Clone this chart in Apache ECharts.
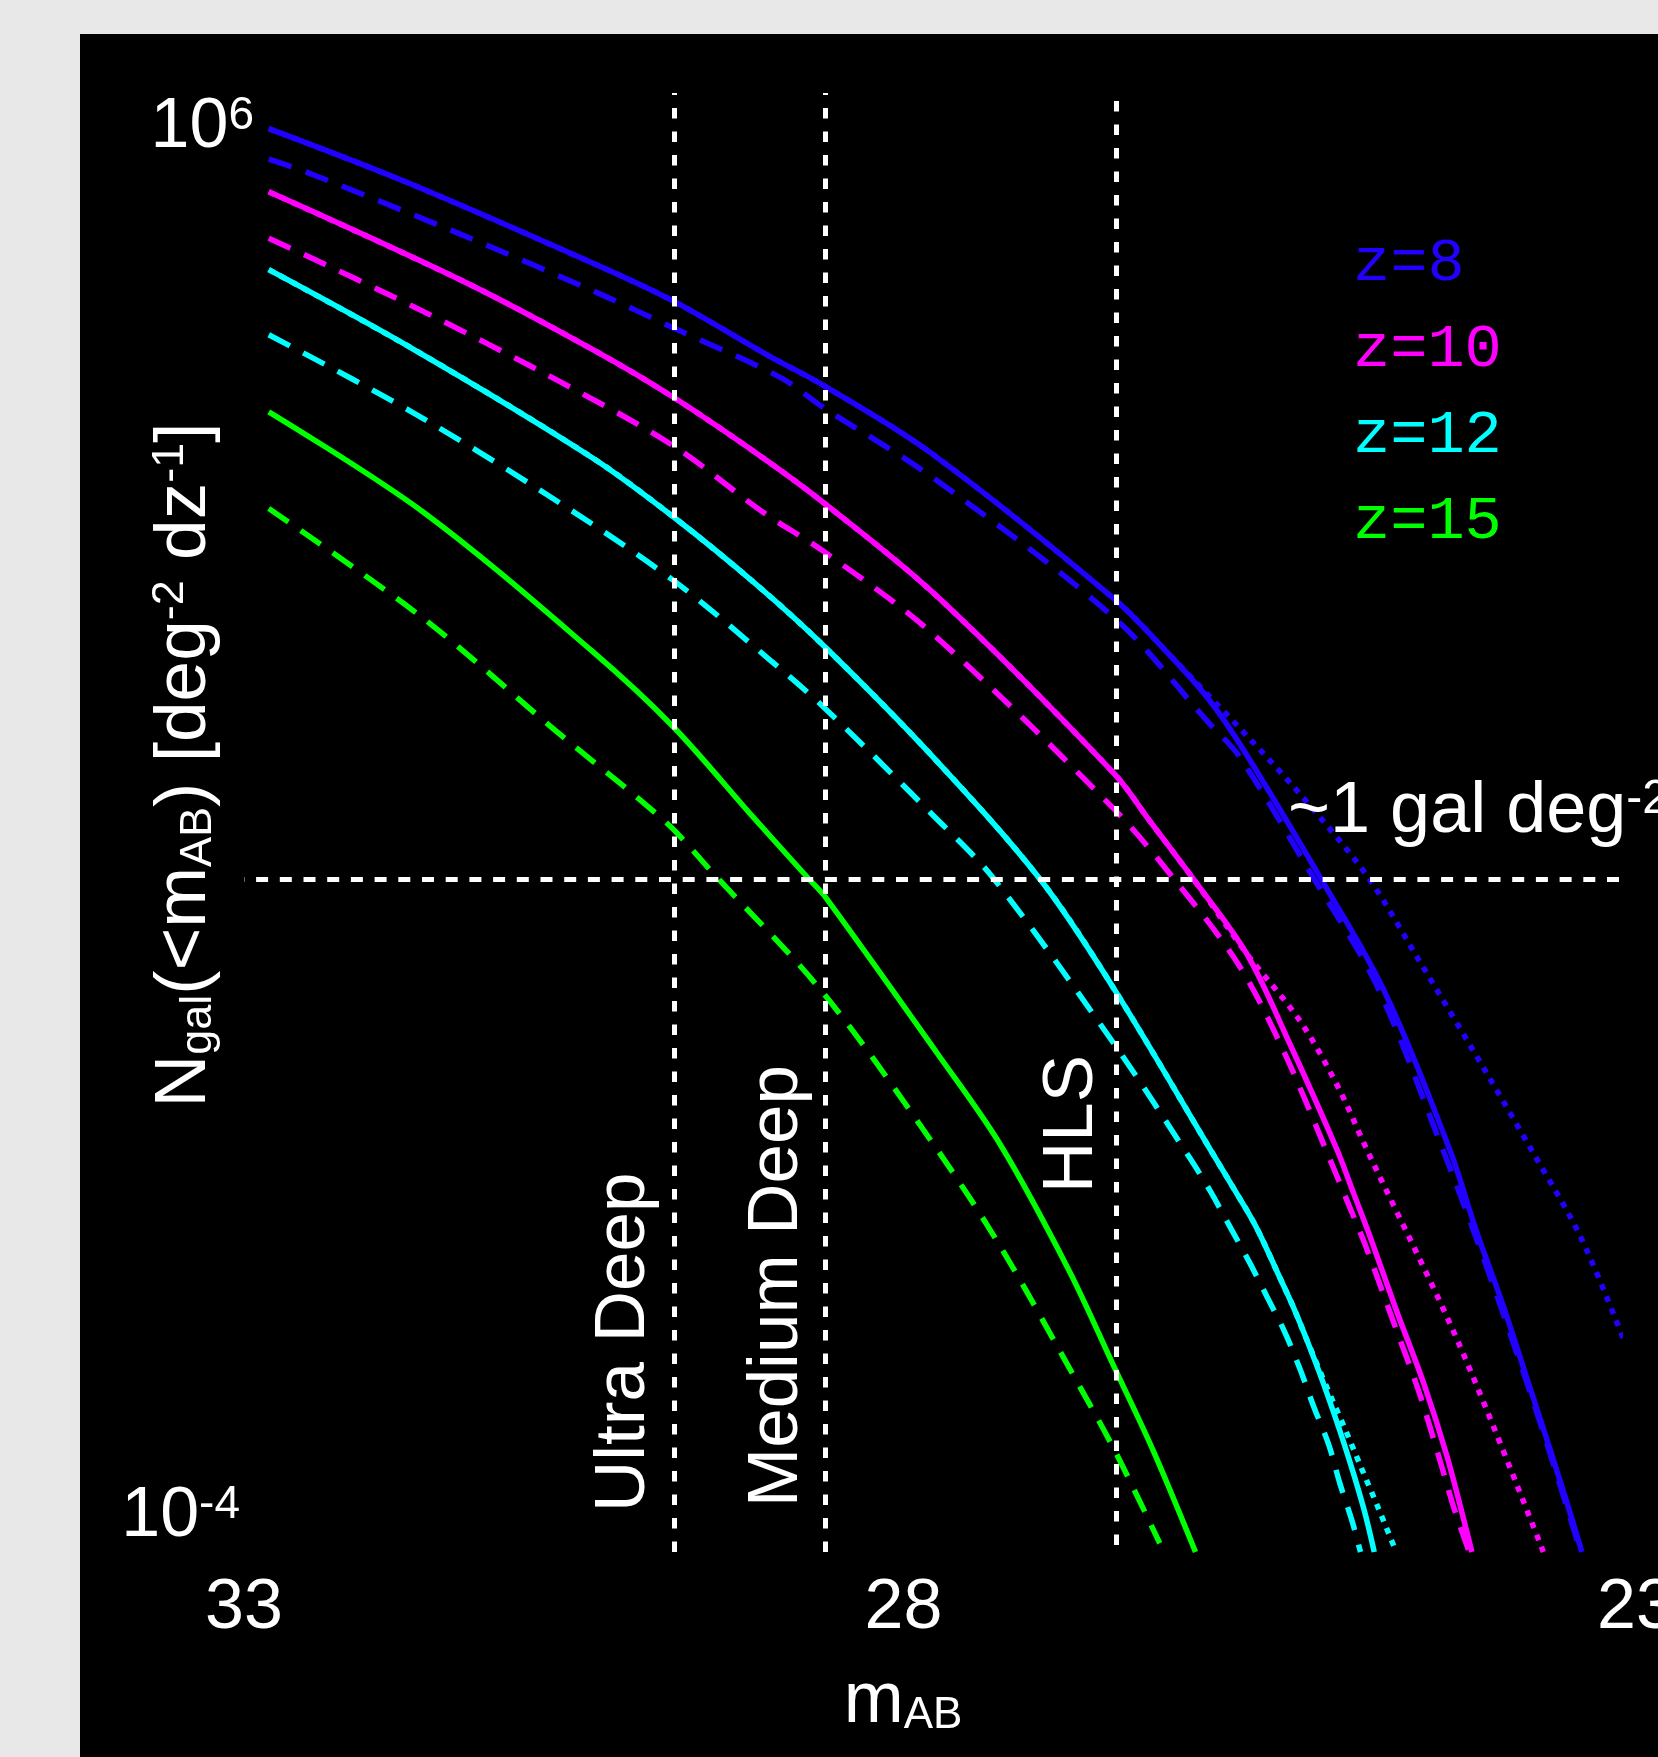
<!DOCTYPE html>
<html>
<head>
<meta charset="utf-8">
<style>
html,body{margin:0;padding:0;background:#e8e8e8;}
#chart{width:1658px;height:1757px;}
</style>
<script src="https://cdn.jsdelivr.net/npm/echarts@6/dist/echarts.min.js"></script>
</head>
<body>
<div id="chart"></div>
<script>
// ---------------- data ----------------
const xTickValues = [23, 28, 33];
const yTickExponents = [-4, 6];

const redshiftLabels = ['z=8', 'z=10', 'z=12', 'z=15'];
const redshiftColors = ['#2200ff', '#ff00ff', '#00ffff', '#00ff00'];

const surveyNames = ['Ultra Deep', 'Medium Deep', 'HLS'];
const surveyDepths = [29.87, 28.77, 26.66];
const oneGalLevel = 4.1;

// z = 8
const z8SolidMag  = [32.82, 31.83, 30.45, 29.88, 29.18, 28.78, 28.00, 26.67, 26.30, 25.99, 25.73, 25.17, 24.71, 24.23, 24.04, 23.84, 23.65, 23.50, 23.34, 23.27];
const z8SolidLogN = [5.756, 5.393, 4.828, 4.575, 4.197, 3.993, 3.530, 2.531, 2.180, 1.852, 1.497, 0.618, -0.150, -1.245, -1.793, -2.318, -2.867, -3.300, -3.780, -4.000];
const z8DashedMag  = [32.82, 32.55, 31.44, 30.40, 29.88, 29.10, 28.78, 28.00, 26.67, 25.99, 25.76, 25.22, 24.76, 24.28, 24.06, 23.86, 23.66, 23.51, 23.35, 23.28];
const z8DashedLogN = [5.546, 5.459, 5.038, 4.618, 4.391, 4.051, 3.840, 3.370, 2.402, 1.690, 1.451, 0.618, -0.120, -1.245, -1.793, -2.318, -2.867, -3.300, -3.780, -4.000];
const z8DottedMag  = [32.82, 31.83, 30.45, 29.88, 29.18, 28.78, 28.00, 26.67, 26.30, 25.61, 25.22, 24.82, 24.47, 23.99, 23.65, 23.28, 22.96];
const z8DottedLogN = [5.756, 5.393, 4.828, 4.575, 4.197, 3.993, 3.530, 2.531, 2.180, 1.497, 1.086, 0.618, 0.080, -0.674, -1.222, -1.839, -2.559];

// z = 10
const z10SolidMag  = [32.82, 31.38, 30.44, 29.88, 29.23, 28.78, 27.96, 26.67, 26.42, 26.10, 25.71, 25.39, 25.05, 24.93, 24.81, 24.62, 24.42, 24.25, 24.11, 24.07];
const z10SolidLogN = [5.323, 4.698, 4.229, 3.916, 3.502, 3.188, 2.550, 1.334, 1.020, 0.618, 0.104, -0.525, -1.245, -1.542, -1.839, -2.341, -2.844, -3.347, -3.849, -4.000];
const z10DashedMag  = [32.82, 31.77, 30.73, 29.88, 29.23, 28.78, 28.00, 26.67, 26.24, 25.77, 25.44, 25.07, 24.96, 24.85, 24.65, 24.45, 24.28, 24.20, 24.09];
const z10DashedLogN = [5.005, 4.537, 4.035, 3.583, 3.130, 2.855, 2.300, 1.090, 0.618, 0.030, -0.565, -1.382, -1.633, -1.884, -2.398, -2.917, -3.443, -3.700, -4.000];
const z10DottedMag  = [32.82, 31.38, 30.44, 29.88, 29.23, 28.78, 27.96, 26.67, 26.42, 26.10, 25.71, 25.32, 25.05, 24.83, 24.17, 23.55];
const z10DottedLogN = [5.323, 4.698, 4.229, 3.916, 3.502, 3.188, 2.550, 1.334, 1.020, 0.618, 0.104, -0.360, -0.800, -1.250, -2.560, -4.000];

// z = 12
const z12SolidMag  = [32.82, 31.77, 30.47, 29.88, 29.27, 28.78, 28.00, 27.21, 26.67, 25.97, 25.81, 25.64, 25.47, 25.37, 25.27, 25.15, 25.00, 24.86, 24.78];
const z12SolidLogN = [4.789, 4.245, 3.502, 3.097, 2.628, 2.208, 1.460, 0.611, -0.144, -1.245, -1.496, -1.770, -2.113, -2.318, -2.547, -2.844, -3.255, -3.690, -4.000];
const z12DashedMag  = [32.82, 31.80, 30.79, 29.88, 29.17, 28.78, 28.00, 27.55, 26.67, 26.12, 25.97, 25.83, 25.69, 25.56, 25.43, 25.32, 25.22, 25.11, 25.03, 24.94, 24.88];
const z12DashedLogN = [4.343, 3.825, 3.243, 2.661, 2.110, 1.787, 1.060, 0.618, -0.520, -1.302, -1.530, -1.770, -2.010, -2.250, -2.494, -2.746, -3.004, -3.267, -3.530, -3.792, -4.000];
const z12DottedMag  = [32.82, 31.77, 30.47, 29.88, 29.27, 28.78, 28.00, 27.21, 26.67, 25.97, 25.81, 25.64, 25.47, 25.37, 25.27, 25.13, 25.00, 24.88, 24.75, 24.62];
const z12DottedLogN = [4.789, 4.245, 3.502, 3.097, 2.628, 2.208, 1.460, 0.611, -0.144, -1.245, -1.496, -1.770, -2.113, -2.318, -2.547, -2.860, -3.140, -3.410, -3.700, -4.000];

// z = 15
const z15SolidMag  = [32.82, 31.70, 30.47, 29.88, 29.30, 28.89, 28.77, 27.96, 27.50, 27.00, 26.67, 26.39, 26.08];
const z15SolidLogN = [3.815, 3.130, 2.176, 1.658, 1.040, 0.611, 0.487, -0.580, -1.207, -2.070, -2.735, -3.300, -4.000];
const z15DashedMag  = [32.82, 31.70, 30.73, 29.93, 29.59, 28.78, 27.96, 27.50, 27.00, 26.67, 26.34];
const z15DashedLogN = [3.152, 2.402, 1.626, 1.000, 0.654, -0.177, -1.240, -1.905, -2.735, -3.300, -3.940];

// ---------------- chart ----------------
const FONT = 'Liberation Sans, Helvetica, Arial, sans-serif';
const DASH = [24, 15];
const DOT = [6, 7];
const LW = 5.5;

function pts(mags, logs) {
  return mags.map((m, i) => [m, Math.pow(10, logs[i])]);
}
function curve(name, mags, logs, color, type) {
  return {
    name: name, type: 'line', data: pts(mags, logs),
    showSymbol: false, symbol: 'none', smooth: 0.33, clip: true,
    lineStyle: { color: color, width: LW, type: type, cap: 'butt', join: 'round' },
    silent: true, animation: false
  };
}

const series = [
  curve('z=8 solid',  z8SolidMag,  z8SolidLogN,  redshiftColors[0], 'solid'),
  curve('z=8 dashed', z8DashedMag, z8DashedLogN, redshiftColors[0], DASH),
  curve('z=8 dotted', z8DottedMag, z8DottedLogN, redshiftColors[0], DOT),
  curve('z=10 solid',  z10SolidMag,  z10SolidLogN,  redshiftColors[1], 'solid'),
  curve('z=10 dashed', z10DashedMag, z10DashedLogN, redshiftColors[1], DASH),
  curve('z=10 dotted', z10DottedMag, z10DottedLogN, redshiftColors[1], DOT),
  curve('z=12 solid',  z12SolidMag,  z12SolidLogN,  redshiftColors[2], 'solid'),
  curve('z=12 dashed', z12DashedMag, z12DashedLogN, redshiftColors[2], DASH),
  curve('z=12 dotted', z12DottedMag, z12DottedLogN, redshiftColors[2], DOT),
  curve('z=15 solid',  z15SolidMag,  z15SolidLogN,  redshiftColors[3], 'solid'),
  curve('z=15 dashed', z15DashedMag, z15DashedLogN, redshiftColors[3], DASH),
  {
    name: 'guides', type: 'line', data: [], silent: true, animation: false,
    markLine: {
      silent: true, animation: false, symbol: ['none', 'none'],
      label: { show: false },
      lineStyle: { color: '#ffffff', width: 5, type: [10.5, 13] },
      data: [
        { xAxis: surveyDepths[0] },
        { xAxis: surveyDepths[1] },
        [ { coord: [surveyDepths[2], 8.8e5] }, { coord: [surveyDepths[2], 1e-4] } ],
        { yAxis: oneGalLevel, lineStyle: { color: '#ffffff', width: 5, type: [12, 11.7] } }
      ]
    }
  }
];

const yRich = {
  b: { color: '#fff', fontSize: 70, lineHeight: 70, fontFamily: FONT },
  s: { color: '#fff', fontSize: 46, lineHeight: 52, verticalAlign: 'top', fontFamily: FONT },
  t: { color: '#fff', fontSize: 46, lineHeight: 52, verticalAlign: 'top', fontFamily: FONT, padding: [0, 14, 0, 0] }
};

const legendTexts = redshiftLabels.map((t, i) => ({
  type: 'text', x: 1353, y: 264 + i * 85.7, z: 10,
  style: { text: t, fill: redshiftColors[i], fontSize: 62, fontFamily: 'Liberation Mono, Courier New, monospace',
           align: 'left', verticalAlign: 'middle' }
}));

const surveyLabelPos = [[624, 1512], [777, 1507], [1072, 1193]];
const surveyTexts = surveyNames.map((t, i) => ({
  type: 'text', x: surveyLabelPos[i][0], y: surveyLabelPos[i][1], rotation: Math.PI / 2, z: 10,
  style: { text: t, fill: '#fff', fontSize: 71, fontFamily: FONT, align: 'left', verticalAlign: 'middle' }
}));

const chart = echarts.init(document.getElementById('chart'), null, { renderer: 'canvas' });
chart.setOption({
  backgroundColor: '#e8e8e8',
  animation: false,
  grid: { left: 244, right: 39, top: 93, bottom: 205, containLabel: false, outerBoundsMode: 'none' },
  xAxis: {
    type: 'value', min: 23, max: 33, inverse: true,
    axisLine: { show: false }, axisTick: { show: false }, splitLine: { show: false },
    axisLabel: {
      customValues: xTickValues, margin: 22, color: '#fff', fontSize: 70, fontFamily: FONT,
      hideOverlap: false,
      formatter: v => {
        const r = Math.round(v);
        return r === 28 ? '{p|' + r + '}' : (r === 23 ? '{r|' + r + '}' : '{q|' + r + '}');
      },
      rich: {
        p: { color: '#fff', fontSize: 70, lineHeight: 70, fontFamily: FONT, padding: [0, 56, 0, 0] },
        r: { color: '#fff', fontSize: 70, lineHeight: 70, fontFamily: FONT, padding: [0, 0, 0, 34] },
        q: { color: '#fff', fontSize: 70, lineHeight: 70, fontFamily: FONT }
      }
    }
  },
  yAxis: {
    type: 'log', logBase: 10, min: 1e-4, max: 1e6,
    axisLine: { show: false }, axisTick: { show: false }, splitLine: { show: false },
    axisLabel: {
      margin: -10, color: '#fff', fontSize: 70, fontFamily: FONT,
      verticalAlignMaxLabel: 'top', verticalAlignMinLabel: 'bottom',
      formatter: v => {
        const e = Math.round(Math.log10(v));
        if (yTickExponents.indexOf(e) < 0) return '';
        return e < 0 ? '{b|10}{t|' + e + '}' : '{b|10}{s|' + e + '}';
      },
      rich: yRich
    }
  },
  graphic: [
    { type: 'rect', z: -100, silent: true, shape: { x: 80, y: 34, width: 1578, height: 1723 }, style: { fill: '#000' } },
    ...legendTexts,
    ...surveyTexts,
    {
      type: 'text', x: 1288, y: 812, z: 10,
      style: {
        text: '{b|~1 gal deg}{s|-2}', align: 'left', verticalAlign: 'middle',
        rich: {
          b: { fill: '#fff', fontSize: 72, lineHeight: 72, fontFamily: FONT },
          s: { fill: '#fff', fontSize: 48, lineHeight: 54, verticalAlign: 'top', fontFamily: FONT }
        }
      }
    },
    {
      type: 'text', x: 903, y: 1702, z: 10,
      style: {
        text: '{n|m}{sub|AB}', align: 'center', verticalAlign: 'middle',
        rich: {
          n: { fill: '#fff', fontSize: 72, lineHeight: 72, fontFamily: FONT },
          sub: { fill: '#fff', fontSize: 44, lineHeight: 46, verticalAlign: 'bottom', fontFamily: FONT }
        }
      }
    },
    {
      type: 'text', x: 185, y: 765, rotation: Math.PI / 2, z: 10,
      style: {
        text: '{n|N}{sub|gal}{n|(<m}{sub|AB}{n|) [deg}{sup|-2}{n| dz}{sup|-1}{n|]}',
        align: 'center', verticalAlign: 'middle',
        rich: {
          n: { fill: '#fff', fontSize: 73, lineHeight: 73, fontFamily: FONT },
          sub: { fill: '#fff', fontSize: 45, lineHeight: 47, verticalAlign: 'bottom', fontFamily: FONT },
          sup: { fill: '#fff', fontSize: 45, lineHeight: 52, verticalAlign: 'top', fontFamily: FONT }
        }
      }
    }
  ],
  series: series
});
</script>
</body>
</html>
